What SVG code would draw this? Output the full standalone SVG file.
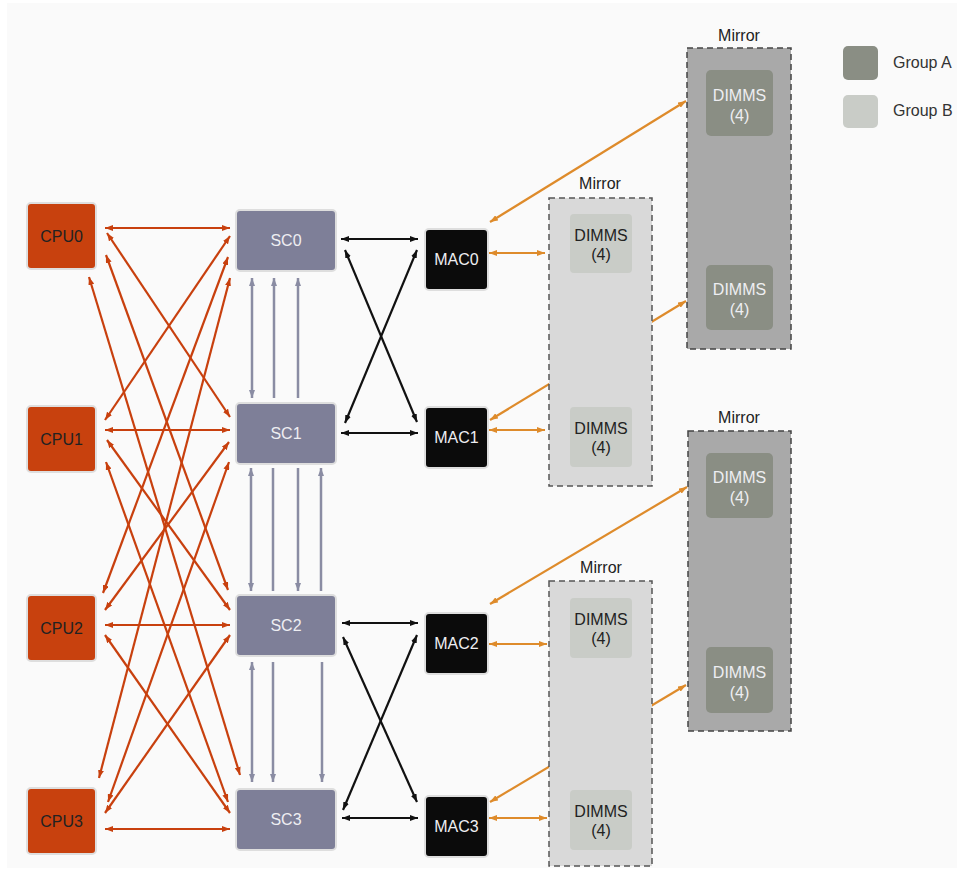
<svg xmlns="http://www.w3.org/2000/svg" width="957" height="880" viewBox="0 0 957 880">
<style>
text{font-family:"Liberation Sans",Arial,sans-serif;font-size:16px;text-anchor:middle}
.cpu{fill:#c8410e;stroke:#dedede;stroke-width:2}
.sc{fill:#7e7f98;stroke:#dedede;stroke-width:2}
.mac{fill:#0b0b0b;stroke:#dedede;stroke-width:2}
.boxA{fill:#a9a9a9;stroke:#444;stroke-width:1.5;stroke-dasharray:6 4}
.boxB{fill:#d9d9d9;stroke:#555;stroke-width:1.5;stroke-dasharray:6 4}
.dA{fill:#8a8e84}
.dB{fill:#c9ccc7}
.tDark{fill:#222}
.tLight{fill:#eeeef2}
.co{stroke:#c8400e;stroke-width:2.2;fill:none;marker-start:url(#mo);marker-end:url(#mo)}
.cg{stroke:#8a8ca3;stroke-width:2.5;fill:none}
.cb{stroke:#111;stroke-width:2.2;fill:none;marker-start:url(#mb);marker-end:url(#mb)}
.cm{stroke:#de8b2b;stroke-width:2.2;fill:none;marker-start:url(#mm);marker-end:url(#mm)}
</style>
<defs>
<marker id="mo" viewBox="0 0 8 6" refX="8" refY="3" markerWidth="8" markerHeight="6" markerUnits="userSpaceOnUse" orient="auto-start-reverse"><path d="M0,0 L8,3 L0,6 z" fill="#c8400e"/></marker>
<marker id="mb" viewBox="0 0 8 6" refX="8" refY="3" markerWidth="8" markerHeight="6" markerUnits="userSpaceOnUse" orient="auto-start-reverse"><path d="M0,0 L8,3 L0,6 z" fill="#111"/></marker>
<marker id="mm" viewBox="0 0 8 6" refX="8" refY="3" markerWidth="8" markerHeight="6" markerUnits="userSpaceOnUse" orient="auto-start-reverse"><path d="M0,0 L8,3 L0,6 z" fill="#de8b2b"/></marker>
<marker id="mg" viewBox="0 0 8 6" refX="8" refY="3" markerWidth="8" markerHeight="6" markerUnits="userSpaceOnUse" orient="auto-start-reverse"><path d="M0,0 L8,3 L0,6 z" fill="#8a8ca3"/></marker>
</defs>
<rect x="0" y="0" width="957" height="880" fill="#ffffff"/>
<rect x="7" y="3" width="950" height="865" fill="#fafafa"/>

<g id="connectors">
<path class="co" d="M105,228 L230,228"/>
<path class="co" d="M107,233 L230,417"/>
<path class="co" d="M106,255 L228,590"/>
<path class="co" d="M89,277 L240,775"/>
<path class="co" d="M105,420 L230,236"/>
<path class="co" d="M105,430 L230,430"/>
<path class="co" d="M107,440 L230,610"/>
<path class="co" d="M106,462 L228,802"/>
<path class="co" d="M103,593 L228,257"/>
<path class="co" d="M105,610 L229,442"/>
<path class="co" d="M105,625 L230,625"/>
<path class="co" d="M105,635 L230,813"/>
<path class="co" d="M99,778 L230,278"/>
<path class="co" d="M108,802 L229,462"/>
<path class="co" d="M105,813 L230,635"/>
<path class="co" d="M105,829 L230,829"/>
<path class="cg" d="M252,278 L252,398" marker-start="url(#mg)" marker-end="url(#mg)"/>
<path class="cg" d="M274,398 L274,278" marker-end="url(#mg)"/>
<path class="cg" d="M298,398 L298,278" marker-end="url(#mg)"/>
<path class="cg" d="M251,468 L251,591" marker-start="url(#mg)" marker-end="url(#mg)"/>
<path class="cg" d="M273,468 L273,591"/>
<path class="cg" d="M298,468 L298,591" marker-end="url(#mg)"/>
<path class="cg" d="M321,591 L321,468" marker-end="url(#mg)"/>
<path class="cg" d="M252,662 L252,782" marker-start="url(#mg)" marker-end="url(#mg)"/>
<path class="cg" d="M273,662 L273,782" marker-end="url(#mg)"/>
<path class="cg" d="M322,662 L322,782" marker-end="url(#mg)"/>
<path class="cb" d="M341,239 L418,239"/>
<path class="cb" d="M345,250 L417,422"/>
<path class="cb" d="M417,250 L345,423"/>
<path class="cb" d="M341,433 L418,433"/>
<path class="cb" d="M342,623 L418,623"/>
<path class="cb" d="M343,637 L417,802"/>
<path class="cb" d="M417,635 L343,810"/>
<path class="cb" d="M342,818 L418,818"/>
<path class="cm" d="M490,222 L686,101"/>
<path class="cm" d="M489,253 L545,253"/>
<path class="cm" d="M490,420 L686,301"/>
<path class="cm" d="M489,430 L545,430"/>
<path class="cm" d="M490,604 L687,487"/>
<path class="cm" d="M489,644 L547,644"/>
<path class="cm" d="M490,802 L686,685"/>
<path class="cm" d="M489,818 L547,818"/>
</g>

<g id="cpu0"><rect class="cpu" x="27" y="203" width="69" height="66" rx="4"/><text class="tDark" x="61.5" y="241.5">CPU0</text></g>
<g id="cpu1"><rect class="cpu" x="27" y="406" width="69" height="66" rx="4"/><text class="tDark" x="61.5" y="444.5">CPU1</text></g>
<g id="cpu2"><rect class="cpu" x="27" y="595" width="69" height="66" rx="4"/><text class="tDark" x="61.5" y="633.5">CPU2</text></g>
<g id="cpu3"><rect class="cpu" x="27" y="788" width="69" height="66" rx="4"/><text class="tDark" x="61.5" y="826.5">CPU3</text></g>

<g id="sc0"><rect class="sc" x="236" y="210" width="100" height="61" rx="4"/><text class="tLight" x="286" y="246">SC0</text></g>
<g id="sc1"><rect class="sc" x="236" y="403" width="100" height="61" rx="4"/><text class="tLight" x="286" y="439">SC1</text></g>
<g id="sc2"><rect class="sc" x="236" y="595" width="100" height="61" rx="4"/><text class="tLight" x="286" y="631">SC2</text></g>
<g id="sc3"><rect class="sc" x="236" y="789" width="100" height="61" rx="4"/><text class="tLight" x="286" y="825">SC3</text></g>

<g id="mac0"><rect class="mac" x="425" y="229" width="63" height="61" rx="4"/><text class="tLight" x="456.5" y="265">MAC0</text></g>
<g id="mac1"><rect class="mac" x="425" y="407" width="63" height="61" rx="4"/><text class="tLight" x="456.5" y="443">MAC1</text></g>
<g id="mac2"><rect class="mac" x="425" y="613" width="63" height="61" rx="4"/><text class="tLight" x="456.5" y="649">MAC2</text></g>
<g id="mac3"><rect class="mac" x="425" y="796" width="63" height="61" rx="4"/><text class="tLight" x="456.5" y="832">MAC3</text></g>

<g id="mirrorB1">
<text class="tDark" x="600" y="189">Mirror</text>
<rect class="boxB" x="549" y="198" width="103" height="288"/>
<rect class="dB" x="570" y="214" width="62" height="59" rx="4"/>
<text class="tDark" x="601" y="241">DIMMS</text><text class="tDark" x="601" y="260">(4)</text>
<rect class="dB" x="570" y="407" width="62" height="60" rx="4"/>
<text class="tDark" x="601" y="434">DIMMS</text><text class="tDark" x="601" y="453">(4)</text>
</g>

<g id="mirrorA1">
<text class="tDark" x="739" y="41">Mirror</text>
<rect class="boxA" x="687" y="48" width="104" height="301"/>
<rect class="dA" x="706" y="70" width="67" height="66" rx="5"/>
<text class="tLight" x="739.5" y="101">DIMMS</text><text class="tLight" x="739.5" y="121">(4)</text>
<rect class="dA" x="706" y="265" width="67" height="65" rx="5"/>
<text class="tLight" x="739.5" y="295">DIMMS</text><text class="tLight" x="739.5" y="315">(4)</text>
</g>

<g id="mirrorB2">
<text class="tDark" x="601" y="573">Mirror</text>
<rect class="boxB" x="549" y="581" width="103" height="285"/>
<rect class="dB" x="570" y="598" width="62" height="60" rx="4"/>
<text class="tDark" x="601" y="625">DIMMS</text><text class="tDark" x="601" y="644">(4)</text>
<rect class="dB" x="570" y="790" width="62" height="60" rx="4"/>
<text class="tDark" x="601" y="817">DIMMS</text><text class="tDark" x="601" y="836">(4)</text>
</g>

<g id="mirrorA2">
<text class="tDark" x="739" y="423">Mirror</text>
<rect class="boxA" x="688" y="431" width="103" height="300"/>
<rect class="dA" x="706" y="453" width="67" height="65" rx="5"/>
<text class="tLight" x="739.5" y="483">DIMMS</text><text class="tLight" x="739.5" y="503">(4)</text>
<rect class="dA" x="706" y="647" width="67" height="66" rx="5"/>
<text class="tLight" x="739.5" y="678">DIMMS</text><text class="tLight" x="739.5" y="698">(4)</text>
</g>

<g id="legend">
<rect class="dA" x="843" y="46" width="35" height="34" rx="5"/>
<text class="tDark" x="893" y="68" style="text-anchor:start;fill:#333">Group A</text>
<rect class="dB" x="843" y="95" width="35" height="33" rx="5"/>
<text class="tDark" x="893" y="116" style="text-anchor:start;fill:#333">Group B</text>
</g>
</svg>
